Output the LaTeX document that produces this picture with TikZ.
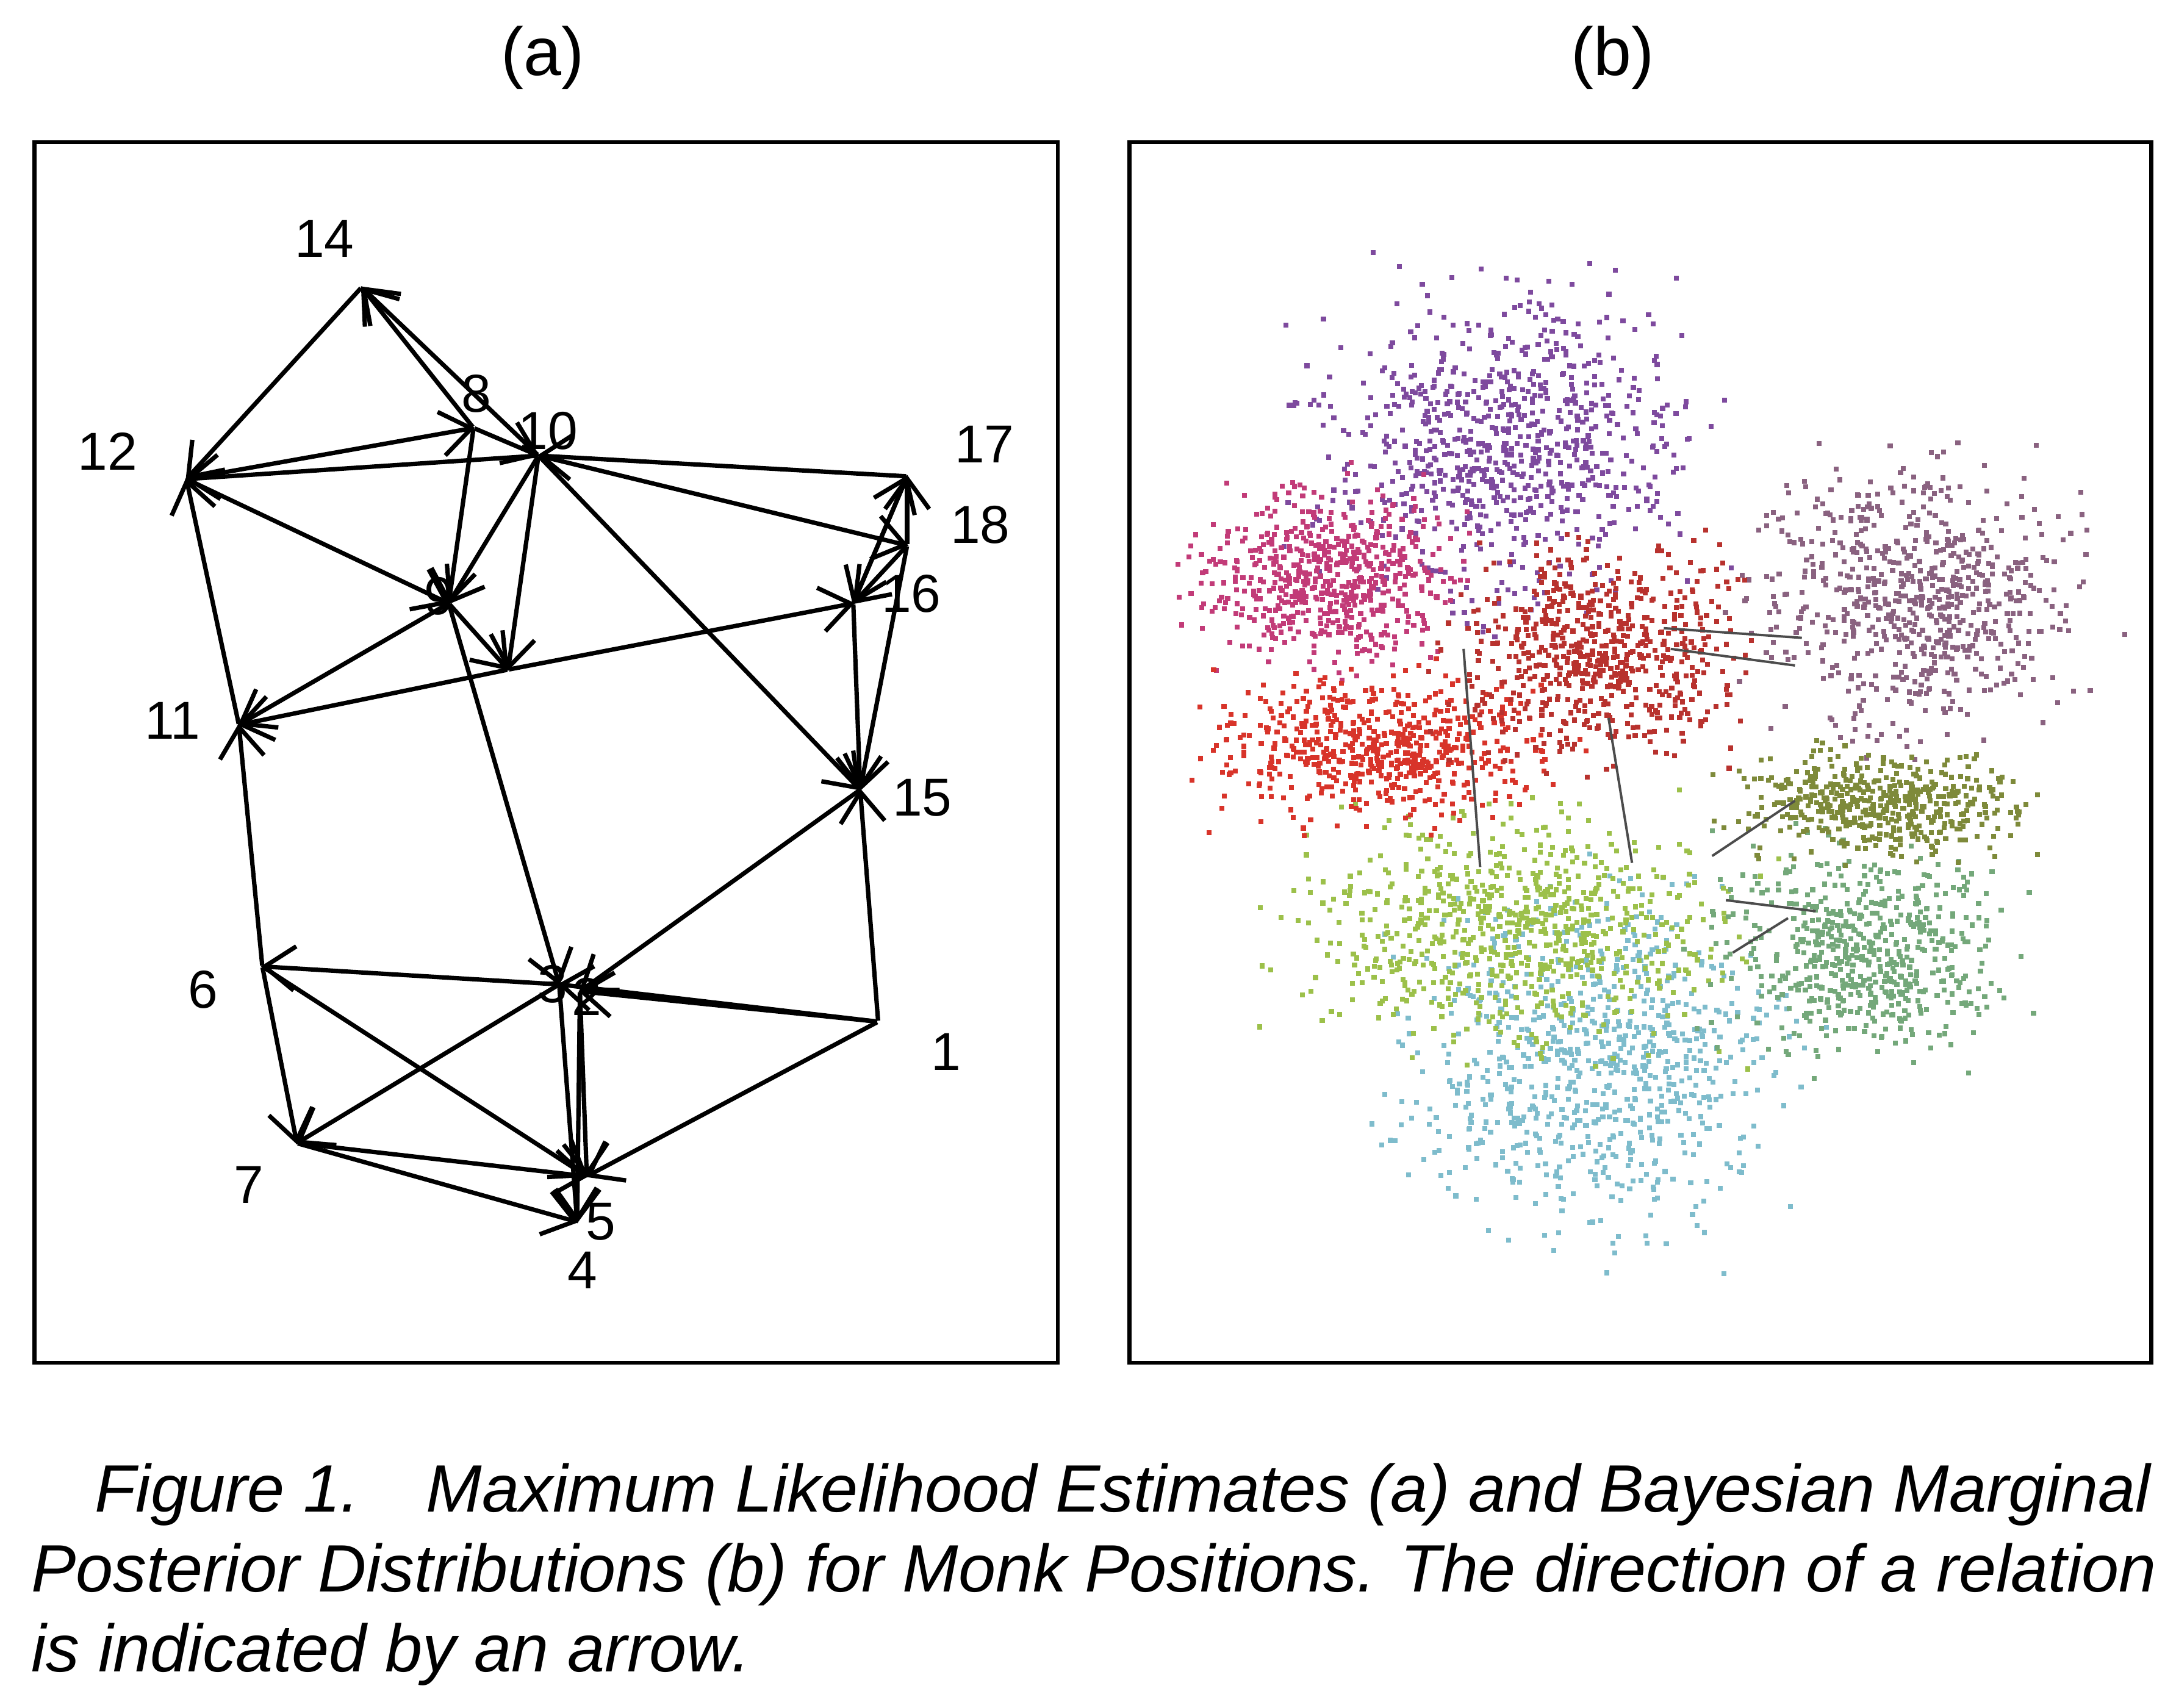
\documentclass[tikz,border=0pt]{standalone}
\usepackage{fontspec}
\setmainfont{Liberation Sans}
\usetikzlibrary{arrows.meta}
\definecolor{Mag}{HTML}{C23B78}
\definecolor{Pur}{HTML}{7E4A9E}
\definecolor{DRed}{HTML}{B8322E}
\definecolor{Red}{HTML}{D8342A}
\definecolor{Plum}{HTML}{8A6280}
\definecolor{Olive}{HTML}{7E8A3A}
\definecolor{LGreen}{HTML}{9CC04A}
\definecolor{SGreen}{HTML}{74A87A}
\definecolor{LBlue}{HTML}{7EBCCC}
\tikzset{
  monk/.style={inner sep=0pt, minimum size=0pt},
  lab/.style={font=\fontsize{11}{13}\selectfont},
  tie/.style={line width=0.9pt, -{Straight Barb[length=2.2mm, width=3.2mm]}, shorten >=-0.5pt},
  dot/.style={fill=#1},
  faint/.style={black!70, line width=0.5pt}
}
\begin{document}
\begin{tikzpicture}[x=0.01cm, y=-0.01cm]
 \useasboundingbox (0,0) rectangle (1568,1237);

 %%%%%%%%%% Titles and frames %%%%%%%%%%
 \node[font=\fontsize{14}{16}\selectfont] (ta) at (393,42) {(a)};
 \node[font=\fontsize{14}{16}\selectfont] (tb) at (1168,42) {(b)};
 \draw[line width=0.8pt] (25,103) rectangle (766,987);
 \draw[line width=0.8pt] (818,103) rectangle (1558,987);

 %%%%%%%%%% Monks (a) %%%%%%%%%%
 \node[monk] (m14) at (262,208) {};
 \node[monk] (m8) at (343,310) {};
 \node[monk] (m10) at (390,330) {};
 \node[monk] (m12) at (135,347) {};
 \node[monk] (m17) at (657,345) {};
 \node[monk] (m18) at (657,395) {};
 \node[monk] (m16) at (618,437) {};
 \node[monk] (m9) at (325,437) {};
 \node[monk] (m13) at (368,485) {};
 \node[monk] (m11) at (173,525) {};
 \node[monk] (m15) at (623,572) {};
 \node[monk] (m6) at (190,700) {};
 \node[monk] (m3) at (405,713) {};
 \node[monk] (m2) at (420,718) {};
 \node[monk] (m1) at (636,740) {};
 \node[monk] (m7) at (215,828) {};
 \node[monk] (m5) at (425,852) {};
 \node[monk] (m4) at (418,885) {};

 % Labels
 \node[lab] (l14) at (235,173) {14};
 \node[lab] (l8) at (345,285) {8};
 \node[lab] (l10) at (397,312) {10};
 \node[lab] (l12) at (78,327) {12};
 \node[lab] (l17) at (713,322) {17};
 \node[lab] (l18) at (710,380) {18};
 \node[lab] (l16) at (660,430) {16};
 \node[lab] (l9) at (318,432) {9};
 \node[lab] (l11) at (125,522) {11};
 \node[lab] (l15) at (668,578) {15};
 \node[lab] (l6) at (147,717) {6};
 \node[lab] (l3) at (400,713) {3};
 \node[lab] (l2) at (425,722) {2};
 \node[lab] (l1) at (685,762) {1};
 \node[lab] (l7) at (180,858) {7};
 \node[lab] (l5) at (435,885) {5};
 \node[lab] (l4) at (422,920) {4};

 %%%%%%%%%% Ties %%%%%%%%%%
 \foreach \a/\b in {14/12, 8/14, 10/14, 12/8, 10/12, 17/10, 12/9, 11/12,
   8/9, 10/9, 10/13, 9/13, 9/11, 13/11, 13/16, 10/15, 10/18, 16/15, 18/15,
   16/17, 18/17, 17/16, 18/16, 9/3, 6/11, 6/7, 3/6, 6/5, 3/7, 7/5, 7/4,
   1/3, 1/2, 1/5, 1/15, 15/2, 2/5, 3/4, 2/4, 8/10}
   \draw[tie] (m\a) -- (m\b);

 %%%%%%%%%% Posterior clouds (b) %%%%%%%%%%
 \pgfmathsetseed{4711}
 \foreach \cx/\cy/\sx/\sy/\col/\n in {
   1090/320/62/52/Pur/800, 1150/770/64/56/LBlue/800, 1090/670/70/38/LGreen/750,
   960/415/42/30/Mag/600, 1385/430/52/44/Plum/700, 1350/690/48/34/SGreen/600,
   995/540/55/24/Red/600, 1360/580/48/18/Olive/500, 1155/470/48/35/DRed/650}{
   \foreach \k in {1,...,\n}{
     \pgfmathsetmacro\px{\cx+(rand+rand+rand)*\sx}
     \pgfmathsetmacro\py{\cy+(rand+rand+rand)*\sy}
     \fill[dot=\col] (\px,\py) rectangle ++(3.6,3.6);
   }
 }
 % faint ties among clouds
 \draw[faint] (1060,470) -- (1072,628);
 \draw[faint] (1165,520) -- (1182,625);
 \draw[faint] (1205,455) -- (1305,462);
 \draw[faint] (1210,470) -- (1300,482);
 \draw[faint] (1240,620) -- (1300,580);
 \draw[faint] (1250,652) -- (1315,660);
 \draw[faint] (1255,690) -- (1295,665);

 %%%%%%%%%% Caption %%%%%%%%%%
 \begin{scope}[every node/.style={anchor=base west, inner sep=0pt,
     font=\itshape\fontsize{13.8}{16}\selectfont}]
   \node (c1) at (68,1095) {Figure 1.\hspace{1em}Maximum Likelihood Estimates (a) and Bayesian Marginal};
   \node (c2) at (22,1153) {Posterior Distributions (b) for Monk Positions. The direction of a relation};
   \node (c3) at (22,1211) {is indicated by an arrow.};
 \end{scope}
\end{tikzpicture}
\end{document}
